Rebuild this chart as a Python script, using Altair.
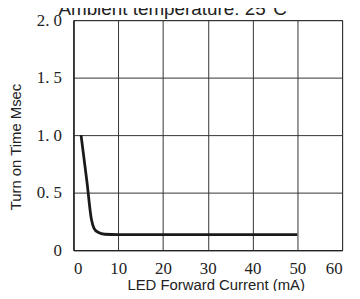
import altair as alt
import pandas as pd

current_ma = [1.7, 3.0, 4.0, 4.6, 5.5, 7.0, 10.0, 50.0]
time_msec = [1.0, 0.6, 0.27, 0.19, 0.155, 0.138, 0.135, 0.135]

x_ticks = [0, 10, 20, 30, 40, 50, 60]
y_ticks = [0, 0.5, 1.0, 1.5, 2.0]

title_text = "Ambient temperature: 25°C"

df = pd.DataFrame({"current": current_ma, "time": time_msec})

W, H = 271, 232

line = alt.Chart(df).mark_line(
    color="#1a1a1a", strokeWidth=2.8, interpolate="monotone"
).encode(
    x=alt.X(
        "current:Q",
        scale=alt.Scale(domain=[0, 60], nice=False, zero=True),
        axis=alt.Axis(
            values=x_ticks,
            title="LED Forward Current (mA)",
            titleX=143.5,
            titleY=40,
            titleBaseline="alphabetic",
            labelPadding=11,
            labelFont="Times New Roman",
        ),
    ),
    y=alt.Y(
        "time:Q",
        scale=alt.Scale(domain=[0, 2.0], nice=False),
        axis=alt.Axis(
            values=y_ticks,
            title="Turn on Time Msec",
            titleX=-58.5,
            titleY=127.5,
            titleAngle=-90,
            titleAlign="center",
            titleBaseline="middle",
            labelPadding=12,
            labelFont="Liberation Serif",
            labelExpr="datum.value == 0 ? '0' : replace(format(datum.value, '.1f'), '.', '. ')",
        ),
    ),
)

title = alt.Chart(pd.DataFrame({"t": [title_text]})).mark_text(
    font="Liberation Sans", fontSize=19, color="#222", align="center", baseline="alphabetic"
).encode(
    text="t:N",
    x=alt.value(100),
    y=alt.value(-5),
)

chart = alt.layer(line, title).properties(
    width=W,
    height=H,
    background="white",
    autosize=alt.AutoSizeParams(type="none"),
    padding={"left": 66, "top": 11, "right": 10, "bottom": 40},
).configure_view(
    stroke="#222", strokeWidth=1
).configure_axis(
    titleFont="Liberation Sans",
    titleFontSize=15,
    titleFontWeight="normal",
    titleColor="#222",
    labelFontSize=17,
    labelColor="#222",
    ticks=False,
    tickSize=0,
    grid=True,
    gridColor="#333",
    gridWidth=1,
    gridOpacity=1,
    domainColor="#222",
    domainWidth=1.2,
)

chart.save("out.html", embed_options={"renderer": "svg", "actions": False})
